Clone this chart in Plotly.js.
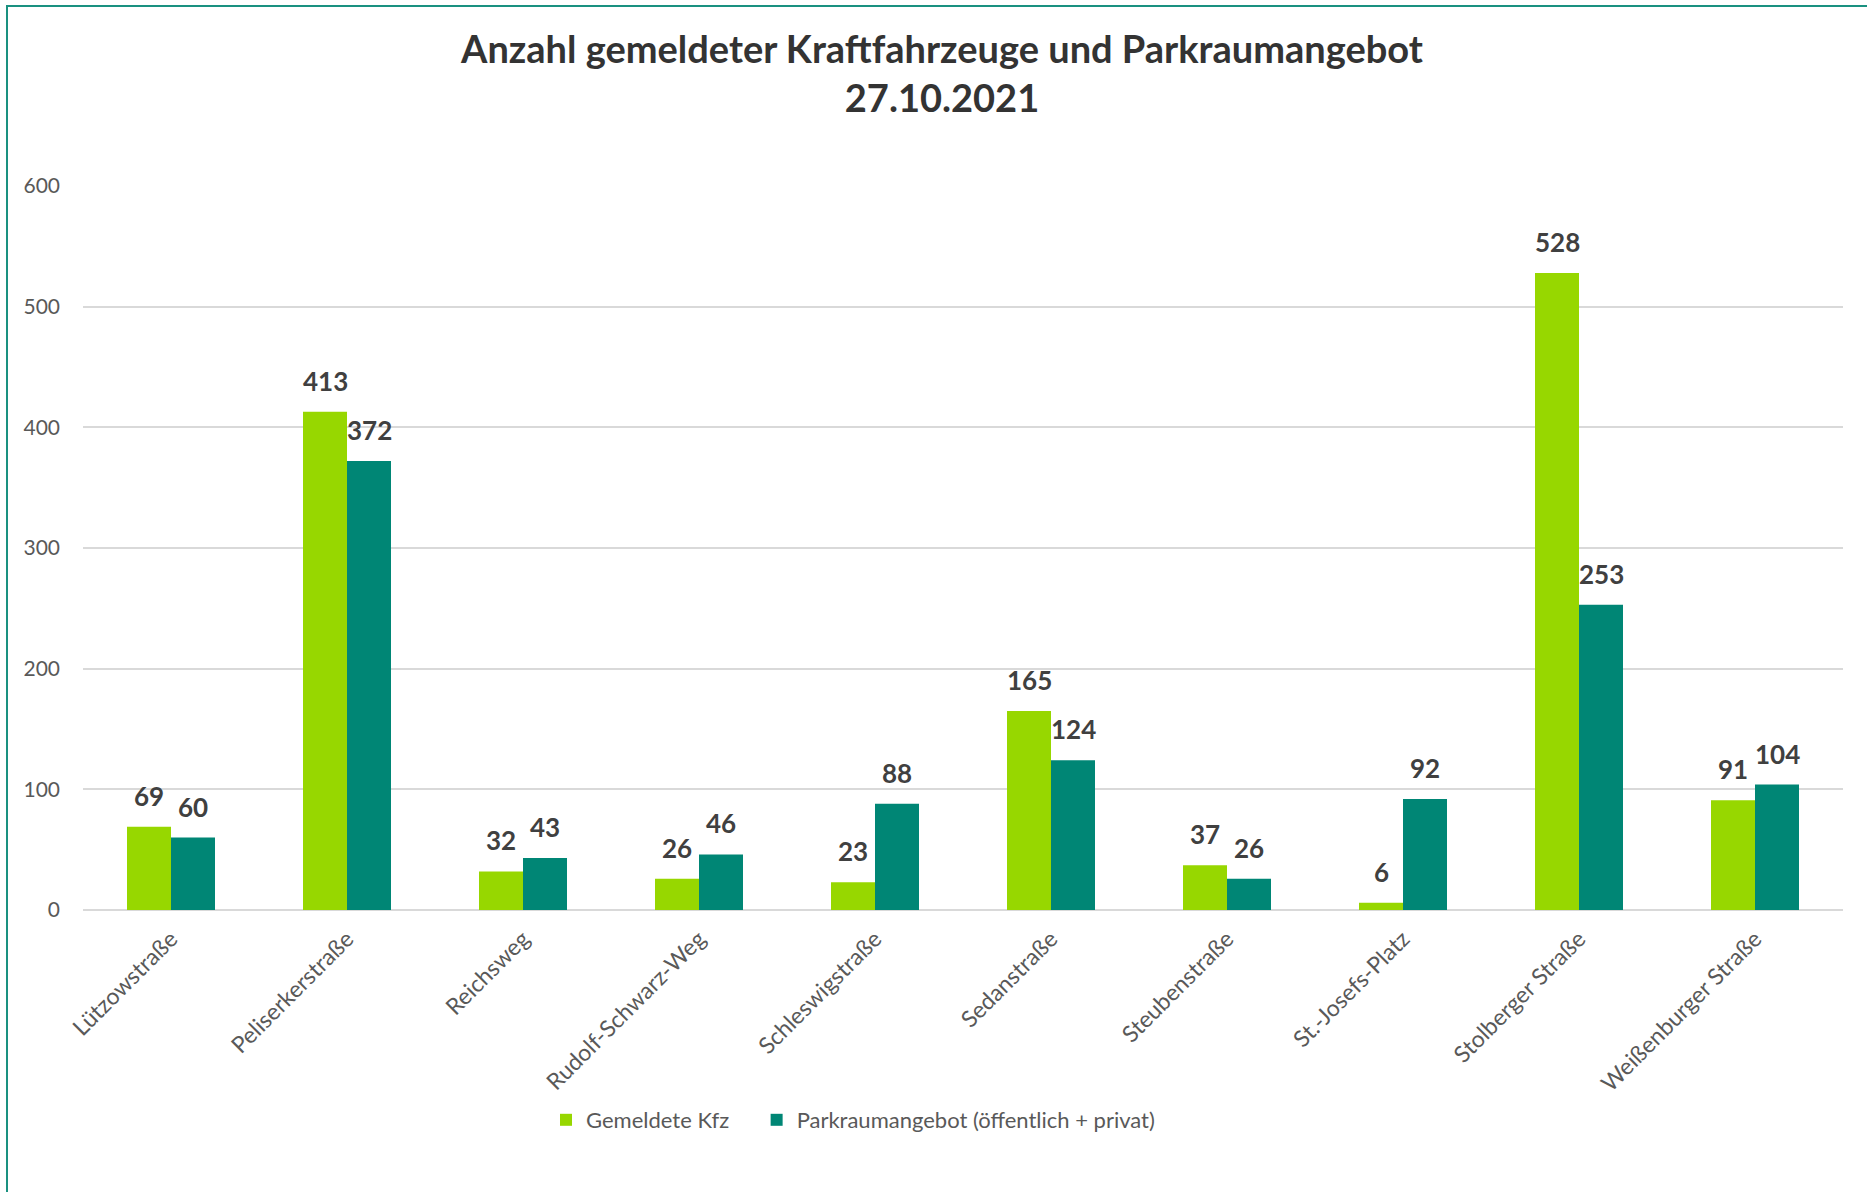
<!DOCTYPE html>
<html>
<head>
<meta charset="utf-8">
<script src="https://cdn.plot.ly/plotly-3.0.1.min.js"></script>
<style>
html,body{margin:0;padding:0;background:#fff;}
#chart{position:absolute;left:0;top:0;width:1867px;height:1192px;}
#frame{position:absolute;left:6px;top:5px;width:1861px;height:1187px;border-left:2px solid #1a9180;border-top:2px solid #1a9180;pointer-events:none;box-sizing:border-box;}
</style>
</head>
<body>
<div id="chart"></div>
<div id="frame"></div>
<script>
const categories = ["Lützowstraße","Peliserkerstraße","Reichsweg","Rudolf-Schwarz-Weg","Schleswigstraße","Sedanstraße","Steubenstraße","St.-Josefs-Platz","Stolberger Straße","Weißenburger Straße"];
const gemeldeteKfz = [69,413,32,26,23,165,37,6,528,91];
const parkraum = [60,372,43,46,88,124,26,92,253,104];
const seriesNames = ["Gemeldete Kfz","Parkraumangebot (öffentlich + privat)"];
const yTicks = [0,100,200,300,400,500,600];

const FONT = "Lato, 'Noto Sans', sans-serif";
const labelFont = {family: FONT, size: 26, color: "#404040", weight: 700};
const colors = ["#97d700","#008675"];
const legendPad = "\u00a0\u00a0\u00a0\u00a0";

const traces = [
  {type:"bar", name:seriesNames[0] + legendPad, x:categories, y:gemeldeteKfz,
   marker:{color:colors[0]}, hoverinfo:"x+y"},
  {type:"bar", name:seriesNames[1], x:categories, y:parkraum,
   marker:{color:colors[1]}, hoverinfo:"x+y"}
];

// value labels placed on data coordinates, shifted onto each bar of the group
const plotL = 83, plotR = 1843;
const catW = (plotR - plotL) / categories.length;
const bargap = 0.5;
const barW = catW * (1 - bargap) / 2;
const annotations = [];
[gemeldeteKfz, parkraum].forEach((vals, s) => {
  vals.forEach((v, i) => {
    annotations.push({x: categories[i], y: v, xref:"x", yref:"y",
      text: String(v), showarrow:false, yanchor:"bottom", xanchor:"center",
      xshift: (s === 0 ? -1 : 1) * barW / 2, yshift: 13, font: labelFont});
  });
});

const layout = {
  width:1867, height:1192,
  paper_bgcolor:"#ffffff", plot_bgcolor:"#ffffff",
  margin:{l:plotL, r:1867-plotR, t:186, b:282},
  font:{family:FONT, color:"#595959"},
  title:{text:"Anzahl gemeldeter Kraftfahrzeuge und Parkraumangebot<br>27.10.2021",
         font:{family:FONT, size:38, color:"#333333", weight:700},
         x:942/1867, xref:"container", xanchor:"center", y:1-63/1192, yref:"container", yanchor:"top"},
  barmode:"group", bargap:bargap, bargroupgap:0,
  showlegend:true,
  legend:{orientation:"h", x:(546-plotL)/(plotR-plotL), xanchor:"left", y:(910-1120)/724, yanchor:"middle",
          font:{family:FONT, size:22, color:"#595959"}, traceorder:"normal"},
  annotations: annotations,
  xaxis:{type:"category", tickangle:-45, tickfont:{family:FONT, size:23, color:"#595959"},
         showgrid:false, showline:false, ticks:"", ticklabelstandoff:10, automargin:false},
  yaxis:{range:[0,600], tickvals:yTicks, ticktext:yTicks.map(String),
         tickfont:{family:FONT, size:21, color:"#595959"},
         showgrid:true, gridcolor:"#d9d9d9", gridwidth:2,
         zeroline:true, zerolinecolor:"#d9d9d9", zerolinewidth:2,
         showline:false, ticks:"", ticklabelstandoff:22, automargin:false}
};

Plotly.newPlot("chart", traces, layout, {displayModeBar:false, staticPlot:true});
</script>
</body>
</html>
